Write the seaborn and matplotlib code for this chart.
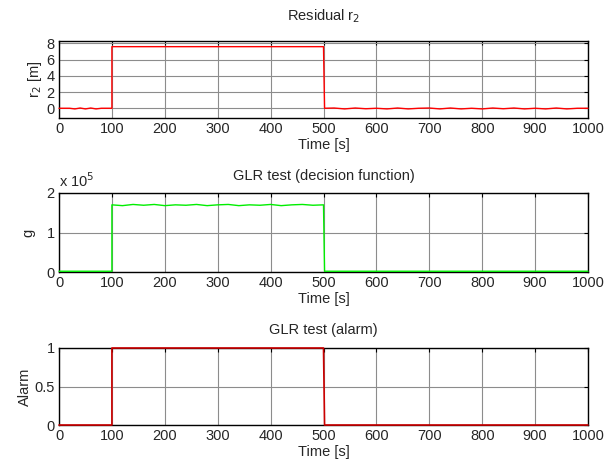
import matplotlib
matplotlib.use("Agg")
import matplotlib.pyplot as plt
import seaborn as sns
import pandas as pd

# residual r2 [m] (knots)
r2_time = [0, 20, 30, 40, 50, 60, 70, 80, 100, 100, 500, 502,
           520, 540, 560, 580, 600, 620, 640, 660, 680, 700, 720, 740,
           760, 780, 800, 820, 840, 860, 880, 900, 920, 940, 960, 980, 1000]
r2_vals = [0.0, 0.0, -0.08, 0.03, -0.08, 0.03, -0.08, 0.0, 0.0, 7.6, 7.6, 0.0,
           0.03, -0.08, 0.03, -0.06, 0.0, -0.08, 0.03, -0.08, 0.0, 0.03, -0.08, 0.03,
           -0.08, 0.0, -0.08, 0.03, -0.06, 0.03, -0.08, 0.0, -0.08, 0.03, -0.08, 0.0, 0.0]

# GLR decision function g (in units of 1e5)
g_time = [0, 100, 100, 120, 140, 160, 180, 200, 220, 240, 260, 280, 300,
          320, 340, 360, 380, 400, 420, 440, 460, 480, 500, 502, 1000]
g_vals = [0.02, 0.02, 1.70, 1.68, 1.71, 1.69, 1.71, 1.68, 1.70, 1.69, 1.71, 1.68, 1.70,
          1.71, 1.68, 1.70, 1.69, 1.71, 1.68, 1.70, 1.71, 1.69, 1.70, 0.02, 0.02]

# alarm
alarm_time = [0, 100, 100, 500, 502, 1000]
alarm_vals = [0, 0, 1, 1, 0, 0]

xticks = [0, 100, 200, 300, 400, 500, 600, 700, 800, 900, 1000]

sns.set_style("white")
plt.rcParams['font.family'] = ['Liberation Sans', 'DejaVu Sans']
plt.rcParams['font.size'] = 9.5

fig = plt.figure(figsize=(6.07, 4.69), dpi=100)
ax1 = fig.add_axes([0.0972, 0.7484, 0.8715, 0.1642])
ax2 = fig.add_axes([0.0972, 0.4200, 0.8715, 0.1685])
ax3 = fig.add_axes([0.0972, 0.0938, 0.8715, 0.1642])

df1 = pd.DataFrame({"t": r2_time, "v": r2_vals})
df2 = pd.DataFrame({"t": g_time, "v": g_vals})
df3 = pd.DataFrame({"t": alarm_time, "v": alarm_vals})

sns.lineplot(data=df1, x="t", y="v", sort=False, estimator=None,
             color="#ff0000", lw=1.0, ax=ax1)
sns.lineplot(data=df2, x="t", y="v", sort=False, estimator=None,
             color="#00ee00", lw=1.0, ax=ax2)
sns.lineplot(data=df3, x="t", y="v", sort=False, estimator=None,
             color="#cc0000", lw=1.2, ax=ax3)

ax1.set_ylim(-1.2, 8.3)
ax1.set_yticks([0, 2, 4, 6, 8])
ax2.set_ylim(0, 2)
ax2.set_yticks([0, 1, 2])
ax3.set_ylim(0, 1)
ax3.set_yticks([0, 0.5, 1])
ax3.set_yticklabels(["0", "0.5", "1"])

ax1.set_title("Residual r$_2$", fontsize=10.5, pad=15)
ax2.set_title("GLR test (decision function)", fontsize=10.5, pad=9)
ax3.set_title("GLR test (alarm)", fontsize=10.5, pad=10)
ax1.set_ylabel("r$_2$ [m]", fontsize=10.5, labelpad=2)
ax2.set_ylabel("g", fontsize=10.5, labelpad=8)
ax3.set_ylabel("Alarm", fontsize=10.5, labelpad=2)
ax2.text(0.0, 1.04, "x 10$^5$", transform=ax2.transAxes, fontsize=10.5, va="bottom")

for ax in (ax1, ax2, ax3):
    ax.set_xlim(0, 1000)
    ax.set_xticks(xticks)
    ax.set_xlabel("Time [s]", fontsize=10.5, labelpad=1)
    ax.grid(True, color="#8c8c8c", lw=0.8)
    ax.tick_params(direction="in", length=3, top=True, right=True,
                   labelsize=10.5, pad=3, color="black")
    for s in ax.spines.values():
        s.set_visible(True)
        s.set_color("black")
        s.set_linewidth(1.0)
        s.set_zorder(2)
    for ln in ax.get_lines():
        ln.set_clip_on(False)
        ln.set_zorder(3)

fig.savefig("out.png", dpi=100)
